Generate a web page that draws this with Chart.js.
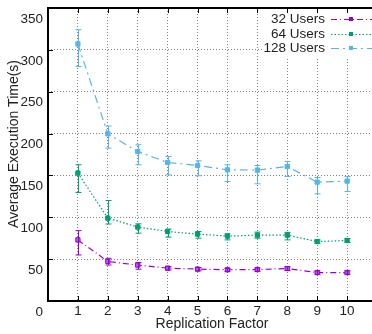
<!DOCTYPE html>
<html>
<head>
<meta charset="utf-8">
<script src="https://cdn.jsdelivr.net/npm/chart.js@4"></script>
<style>
  html, body { margin: 0; padding: 0; background: #fff; overflow: hidden; }
  #wrap { width: 382px; height: 334px; position: relative; }
</style>
</head>
<body>
<div id="wrap"><canvas id="chart"></canvas></div>
<script>
// replication factor on the x axis
const factors = [1, 2, 3, 4, 5, 6, 7, 8, 9, 10];
const yTicks = [0, 50, 100, 150, 200, 250, 300, 350];

// average execution time (s) and error bar ends
const users32 = [73, 47.2, 42.9, 39.3, 38.1, 37.3, 37.6, 38.8, 34, 34];
const users32Lo = [55, 43, 38, 37, 36, 35.5, 35.5, 36.5, 32, 32];
const users32Hi = [84, 51, 46, 41, 40, 39, 39.5, 41, 36, 36];

const users64 = [152.8, 99, 88.3, 83, 79.9, 77.5, 78.7, 78.7, 71, 72.3];
const users64Lo = [129.6, 92, 81, 76.3, 75, 73, 75, 73, 69, 70];
const users64Hi = [162.7, 120, 92.2, 85.9, 83, 80.3, 82.3, 82, 73, 74.5];

const users128 = [307, 199.7, 178.6, 165.5, 161.9, 156.7, 156.4, 160.7, 142, 143.2];
const users128Lo = [280, 182.6, 162.7, 150.7, 149.6, 142.8, 140, 148.7, 128, 130.8];
const users128Hi = [324, 209, 186.6, 172.6, 167.5, 162.7, 161.9, 166.7, 147.5, 148.7];

const FONT = "'Liberation Sans', Arial, sans-serif";

function pts(values) {
    return values.map((v, i) => ({ x: factors[i], y: v }));
}

// error bars, drawn through the chart's own scales
const errorBars = {
    id: 'errorBars',
    afterDatasetsDraw(chart) {
        const ctx = chart.ctx;
        const xs = chart.scales.x, ys = chart.scales.y;
        chart.data.datasets.forEach(ds => {
            ctx.save();
            ctx.strokeStyle = ds.borderColor;
            ctx.lineWidth = 1;
            ds.lo.forEach((lo, i) => {
                const px = Math.round(xs.getPixelForValue(factors[i])) + 0.5;
                const top = ys.getPixelForValue(ds.hi[i]);
                const bot = ys.getPixelForValue(lo);
                ctx.beginPath();
                ctx.moveTo(px, top); ctx.lineTo(px, bot);
                ctx.moveTo(px - 3, top); ctx.lineTo(px + 3, top);
                ctx.moveTo(px - 3, bot); ctx.lineTo(px + 3, bot);
                ctx.stroke();
            });
            ctx.restore();
        });
    }
};

// gnuplot style frame, inward tics, key and titles
const frame = {
    id: 'frame',
    afterDraw(chart) {
        const ctx = chart.ctx;
        const a = chart.chartArea;
        const xs = chart.scales.x, ys = chart.scales.y;
        ctx.save();

        // key box
        ctx.fillStyle = '#fff';
        ctx.fillRect(263, a.top + 1, 120, 48);

        ctx.strokeStyle = '#000';
        ctx.lineWidth = 1;
        ctx.beginPath();
        factors.forEach(f => {
            const px = Math.round(xs.getPixelForValue(f)) + 0.5;
            ctx.moveTo(px, a.bottom); ctx.lineTo(px, a.bottom - 5);
            ctx.moveTo(px, a.top); ctx.lineTo(px, a.top + 5);
        });
        yTicks.forEach(t => {
            const py = Math.round(ys.getPixelForValue(t)) + 0.5;
            ctx.moveTo(a.left, py); ctx.lineTo(a.left + 5, py);
        });
        ctx.stroke();

        ctx.lineWidth = 2;
        ctx.beginPath();
        ctx.moveTo(a.right + 2, a.top);
        ctx.lineTo(a.left, a.top);
        ctx.lineTo(a.left, a.bottom);
        ctx.lineTo(a.right + 2, a.bottom);
        ctx.stroke();

        // key entries
        const rows = [
            { label: '32 Users', ds: chart.data.datasets[0], y: 19 },
            { label: '64 Users', ds: chart.data.datasets[1], y: 34 },
            { label: '128 Users', ds: chart.data.datasets[2], y: 48 }
        ];
        ctx.font = '13.5px ' + FONT;
        ctx.textAlign = 'right';
        ctx.textBaseline = 'middle';
        rows.forEach(r => {
            ctx.fillStyle = '#222';
            ctx.fillText(r.label, 325, r.y);
            ctx.strokeStyle = r.ds.borderColor;
            ctx.lineWidth = 1.2;
            ctx.setLineDash(r.ds.borderDash);
            ctx.beginPath();
            ctx.moveTo(331, r.y + 0.5); ctx.lineTo(377, r.y + 0.5);
            ctx.stroke();
            ctx.setLineDash([]);
            ctx.fillStyle = r.ds.borderColor;
            ctx.fillRect(349, r.y - 2, 4, 4);
        });

        // axis titles
        ctx.fillStyle = '#222';
        ctx.font = '14px ' + FONT;
        ctx.textAlign = 'center';
        ctx.fillText('Replication Factor', 212, 324);
        ctx.translate(14, 144);
        ctx.rotate(-Math.PI / 2);
        ctx.fillText('Average Execution Time(s)', 0, 0);
        ctx.restore();
    }
};

const ctx = document.getElementById('chart').getContext('2d');
new Chart(ctx, {
    type: 'line',
    data: {
        datasets: [
            {
                label: '32 Users',
                data: pts(users32), lo: users32Lo, hi: users32Hi,
                borderColor: '#9400d3', backgroundColor: '#b766e0',
                borderWidth: 1.2, borderDash: [6, 3, 1, 3],
                pointStyle: 'rect', pointRadius: 3, pointBorderWidth: 1
            },
            {
                label: '64 Users',
                data: pts(users64), lo: users64Lo, hi: users64Hi,
                borderColor: '#009e73', backgroundColor: '#009e73',
                borderWidth: 1.2, borderDash: [1.5, 2],
                pointStyle: 'rect', pointRadius: 3, pointBorderWidth: 1
            },
            {
                label: '128 Users',
                data: pts(users128), lo: users128Lo, hi: users128Hi,
                borderColor: '#56b4e9', backgroundColor: '#56b4e9',
                borderWidth: 1.2, borderDash: [8, 4, 2, 4],
                pointStyle: 'rect', pointRadius: 3, pointBorderWidth: 1
            }
        ]
    },
    options: {
        responsive: true,
        maintainAspectRatio: false,
        animation: false,
        layout: { padding: { top: 8, right: 0, left: 0, bottom: 0 } },
        plugins: { legend: { display: false }, tooltip: { enabled: false } },
        scales: {
            x: {
                type: 'linear', min: 0, max: 11,
                afterFit: s => { s.height = 33; s.paddingLeft = 0; s.paddingRight = 0; },
                afterBuildTicks: s => { s.ticks = [0, ...factors, 11].map(v => ({ value: v })); },
                ticks: {
                    color: '#222', font: { family: FONT, size: 13.5 }, padding: 2,
                    maxRotation: 0,
                    callback: v => (v >= 1 && v <= 10 ? String(v) : '')
                },
                grid: {
                    color: c => (c.tick && c.tick.value >= 1 && c.tick.value <= 10 ? '#808080' : 'rgba(0,0,0,0)'),
                    lineWidth: 1, drawTicks: false
                },
                border: { display: false, dash: [1, 2] }
            },
            y: {
                min: 0, max: 350,
                afterFit: s => { s.width = 48; s.paddingTop = 0; s.paddingBottom = 0; },
                afterBuildTicks: s => { s.ticks = yTicks.map(v => ({ value: v })); },
                ticks: {
                    color: '#222', font: { family: FONT, size: 13.5 }, padding: 5,
                    labelOffset: 11
                },
                grid: {
                    color: c => (c.tick && c.tick.value > 0 && c.tick.value < 350 ? '#808080' : 'rgba(0,0,0,0)'),
                    lineWidth: 1, drawTicks: false
                },
                border: { display: false, dash: [1, 2] }
            }
        }
    },
    plugins: [errorBars, frame]
});
</script>
</body>
</html>
